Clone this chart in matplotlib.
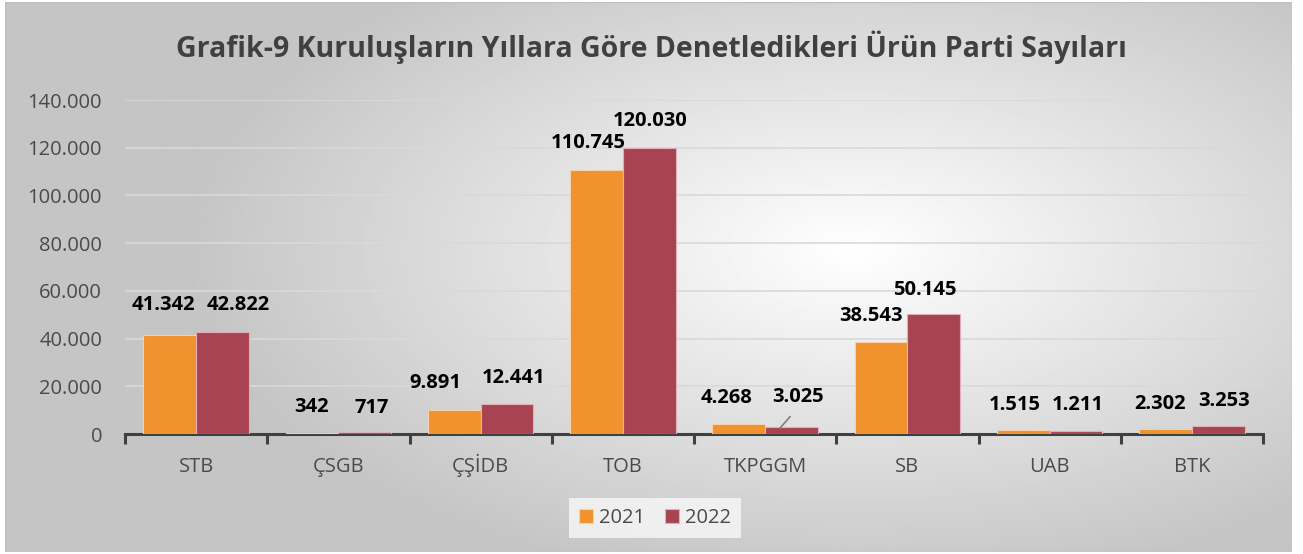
import matplotlib
matplotlib.use("Agg")
import matplotlib.pyplot as plt
from matplotlib.patches import Rectangle
import numpy as np

plt.rcParams['font.family'] = ['Open Sans', 'DejaVu Sans']

# --- data ---
categories = ['STB', 'ÇSGB', 'ÇŞİDB', 'TOB', 'TKPGGM', 'SB', 'UAB', 'BTK']
years = ['2021', '2022']
vals_2021 = [41342, 342, 9891, 110745, 4268, 38543, 1515, 2302]
vals_2022 = [42822, 717, 12441, 120030, 3025, 50145, 1211, 3253]
yticks = [0, 20000, 40000, 60000, 80000, 100000, 120000, 140000]

# label offsets (px) from bar top to label centre, as Excel placed them
off_2021 = [(-6, 30), (-1, 26), (-19, 27), (-8, 27), (-12, 26), (-10, 26), (-9, 25), (-6, 25)]
off_2022 = [(16, 27), (7, 24), (7, 26), (1, 27), (7, 30), (-9, 24), (2, 26), (6, 25)]

ORANGE = '#F0922D'
RED = '#A84452'
TXT = '#4a4a4a'

W, H = 1303, 554
fig = plt.figure(figsize=(W / 100, H / 100), dpi=100)

# background: radial grey -> white
bg = fig.add_axes([5 / W, 2 / H, 1287 / W, 550 / H], zorder=-10)
yy, xx = np.mgrid[0:1:300j, 0:1:600j]
d = np.sqrt(((xx - 0.66) / 0.75) ** 2 + ((yy - 0.45) / 0.9) ** 2)
g = np.clip(1.0 - 0.33 * d, 0.77, 1.0)
bg.imshow(g, cmap='gray', vmin=0, vmax=1, aspect='auto', extent=[0, 1, 1, 0])
bg.add_patch(Rectangle((0, 0), 1, 1, transform=bg.transAxes, fill=False,
                       edgecolor='#bfbfbf', lw=1))
bg.axis('off')

# plot area
x0, x1 = 125, 1263
yb, yt = 434, 100
ax = fig.add_axes([x0 / W, (H - yb) / H, (x1 - x0) / W, (yb - yt) / H])
ax.patch.set_alpha(0)

x = np.arange(len(categories))
bw = 0.37
b1 = ax.bar(x - bw / 2, vals_2021, bw, color=ORANGE, edgecolor='#f7d0b0', lw=0.8, label=years[0], zorder=3)
b2 = ax.bar(x + bw / 2, vals_2022, bw, color=RED, edgecolor='#e0b0b8', lw=0.8, label=years[1], zorder=3)

ax.set_xlim(-0.5, len(categories) - 0.5)
ax.set_ylim(0, 140000)
ax.set_yticks(yticks)
ax.set_yticklabels([f'{v:,}'.replace(',', '.') for v in yticks], fontsize=14.5, color=TXT)
ax.grid(axis='y', color='#d9d9d9', lw=1.2, zorder=0)
ax.set_axisbelow(True)

for s in ['top', 'right', 'left']:
    ax.spines[s].set_visible(False)
ax.spines['bottom'].set_color('#404040')
ax.spines['bottom'].set_linewidth(2.2)

ax.set_xticks(np.arange(len(categories) + 1) - 0.5)
ax.set_xticklabels([])
ax.tick_params(axis='x', length=7, width=2.2, color='#404040', direction='out')
ax.tick_params(axis='y', length=0, pad=16.5)
for i, c in enumerate(categories):
    ax.text(i, -16000, c, ha='center', va='baseline', fontsize=14.5, color=TXT)

def fmt(v):
    return f'{v:,}'.replace(',', '.')

for bars, vals, offs in [(b1, vals_2021, off_2021), (b2, vals_2022, off_2022)]:
    for b, v, (dx, dy) in zip(bars, vals, offs):
        ax.annotate(fmt(v), (b.get_x() + b.get_width() / 2, v),
                    xytext=(dx * 0.72, dy * 0.72), textcoords='offset points',
                    ha='center', va='center', fontsize=14.5, fontweight='bold',
                    color='black', zorder=5)

# leader line for TKPGGM 2022 label
i = categories.index('TKPGGM')
bx = b2[i].get_x() + b2[i].get_width() / 2
ax.plot([bx - 0.08, bx - 0.01], [vals_2022[i] - 500, vals_2022[i] + 4200], color='#7f7f7f', lw=1.2, zorder=4)

fig.text(0.5, (H - 47) / H, 'Grafik-9 Kuruluşların Yıllara Göre Denetledikleri Ürün Parti Sayıları',
         ha='center', va='center', fontsize=20.5, fontweight='bold', color='#404040')

leg = fig.legend(loc='center', bbox_to_anchor=(655 / W, (H - 518) / H), ncol=2,
                 fontsize=14.5, frameon=True, handlelength=0.7, handleheight=0.7,
                 handletextpad=0.3, columnspacing=1.0, borderpad=0.5)
leg.get_frame().set_facecolor('#f8f8f8')
leg.get_frame().set_edgecolor('none')
leg.get_frame().set_boxstyle('square', pad=0)
for t in leg.get_texts():
    t.set_color(TXT)

fig.savefig('out.png', dpi=100)
